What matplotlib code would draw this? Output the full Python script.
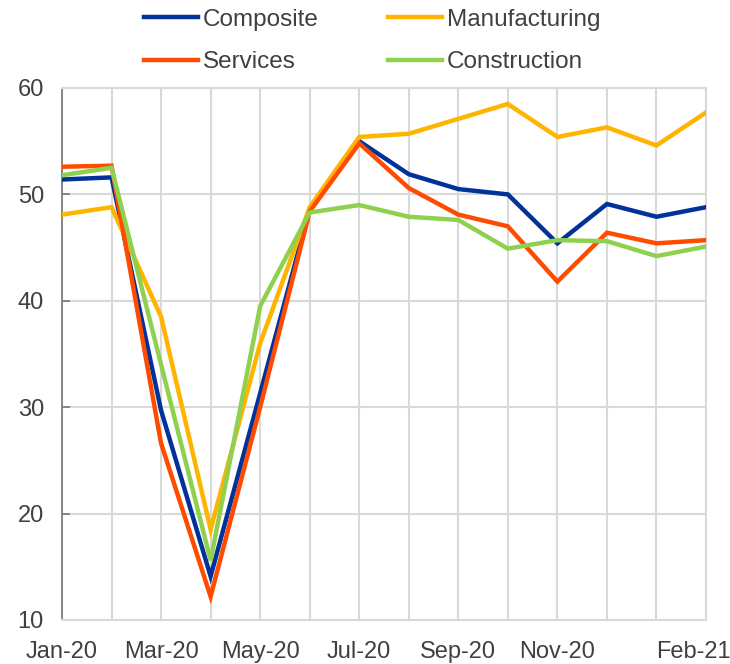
import numpy as np
import matplotlib
matplotlib.use('Agg')
import matplotlib.pyplot as plt
import matplotlib.transforms as mtransforms

plt.rcParams['font.family'] = ['Liberation Sans', 'DejaVu Sans']

months = ['Jan-20', 'Feb-20', 'Mar-20', 'Apr-20', 'May-20', 'Jun-20', 'Jul-20',
          'Aug-20', 'Sep-20', 'Oct-20', 'Nov-20', 'Dec-20', 'Jan-21', 'Feb-21']
shown_labels = ['Jan-20', 'Mar-20', 'May-20', 'Jul-20', 'Sep-20', 'Nov-20', 'Feb-21']

composite = [51.4, 51.6, 29.7, 14.1, 31.3, 48.6, 55.0, 51.9, 50.5, 50.0, 45.4, 49.1, 47.9, 48.8]
manufacturing = [48.1, 48.8, 38.5, 18.5, 36.0, 48.8, 55.4, 55.7, 57.1, 58.5, 55.4, 56.3, 54.6, 57.7]
services = [52.6, 52.7, 26.6, 12.2, 30.0, 48.4, 54.8, 50.6, 48.1, 47.0, 41.8, 46.4, 45.4, 45.7]
construction = [51.8, 52.5, 34.0, 15.6, 39.5, 48.3, 49.0, 47.9, 47.6, 44.9, 45.7, 45.6, 44.2, 45.1]

series = [('Composite', composite, '#003299'),
          ('Manufacturing', manufacturing, '#FFB400'),
          ('Services', services, '#FF4B00'),
          ('Construction', construction, '#8FD14F')]

fig = plt.figure(figsize=(7.3, 6.64), dpi=100)
ax = fig.add_axes([62/730, 1-620/664, 644/730, 532/664])

x = np.arange(len(months))
lines = {}
for name, vals, col in series:
    lines[name], = ax.plot(x, vals, color=col, lw=3.2, label=name, zorder=3,
                           solid_joinstyle='miter')

ax.set_xlim(0, len(months) - 1)
ax.set_ylim(10, 60)
ax.set_yticks(np.arange(10, 61, 10))
ax.set_xticks(x, minor=True)
ax.set_xticks([months.index(m) for m in shown_labels])
ax.set_xticklabels(shown_labels)

ax.grid(True, which='both', color='#d9d9d9', lw=1.5, zorder=0)
ax.axhline(50, color='#7f7f7f', lw=1.3, zorder=1)
# small tick marks hanging from the 50 line
tick_x = x[::2]
ax.vlines(tick_x, 49.5, 50, color='#7f7f7f', lw=1.3, zorder=1)

for s in ['top', 'right', 'bottom']:
    ax.spines[s].set_color('#d9d9d9')
    ax.spines[s].set_linewidth(1.5)
ax.spines['left'].set_color('#7f7f7f')
ax.spines['left'].set_linewidth(1.3)

ax.tick_params(axis='y', direction='in', length=6, color='#7f7f7f', width=1.3,
               labelsize=17, labelcolor='#404040', pad=13)
ax.tick_params(axis='x', which='both', length=0, labelsize=17,
               labelcolor='#404040', pad=15)

# keep the last label inside the figure
lab = ax.get_xticklabels()[-1]
lab.set_transform(lab.get_transform() + mtransforms.ScaledTranslation(-13/100, 0, fig.dpi_scale_trans))

handles = [lines['Composite'], lines['Services'], lines['Manufacturing'], lines['Construction']]
fig.legend(handles, [h.get_label() for h in handles], ncol=2, loc='upper center',
           bbox_to_anchor=(0.51, 1.02), frameon=False, fontsize=17.5,
           labelcolor='#404040', handlelength=2.2, handletextpad=0.22,
           columnspacing=2.85, labelspacing=0.85)

fig.savefig('out.png', dpi=100)
